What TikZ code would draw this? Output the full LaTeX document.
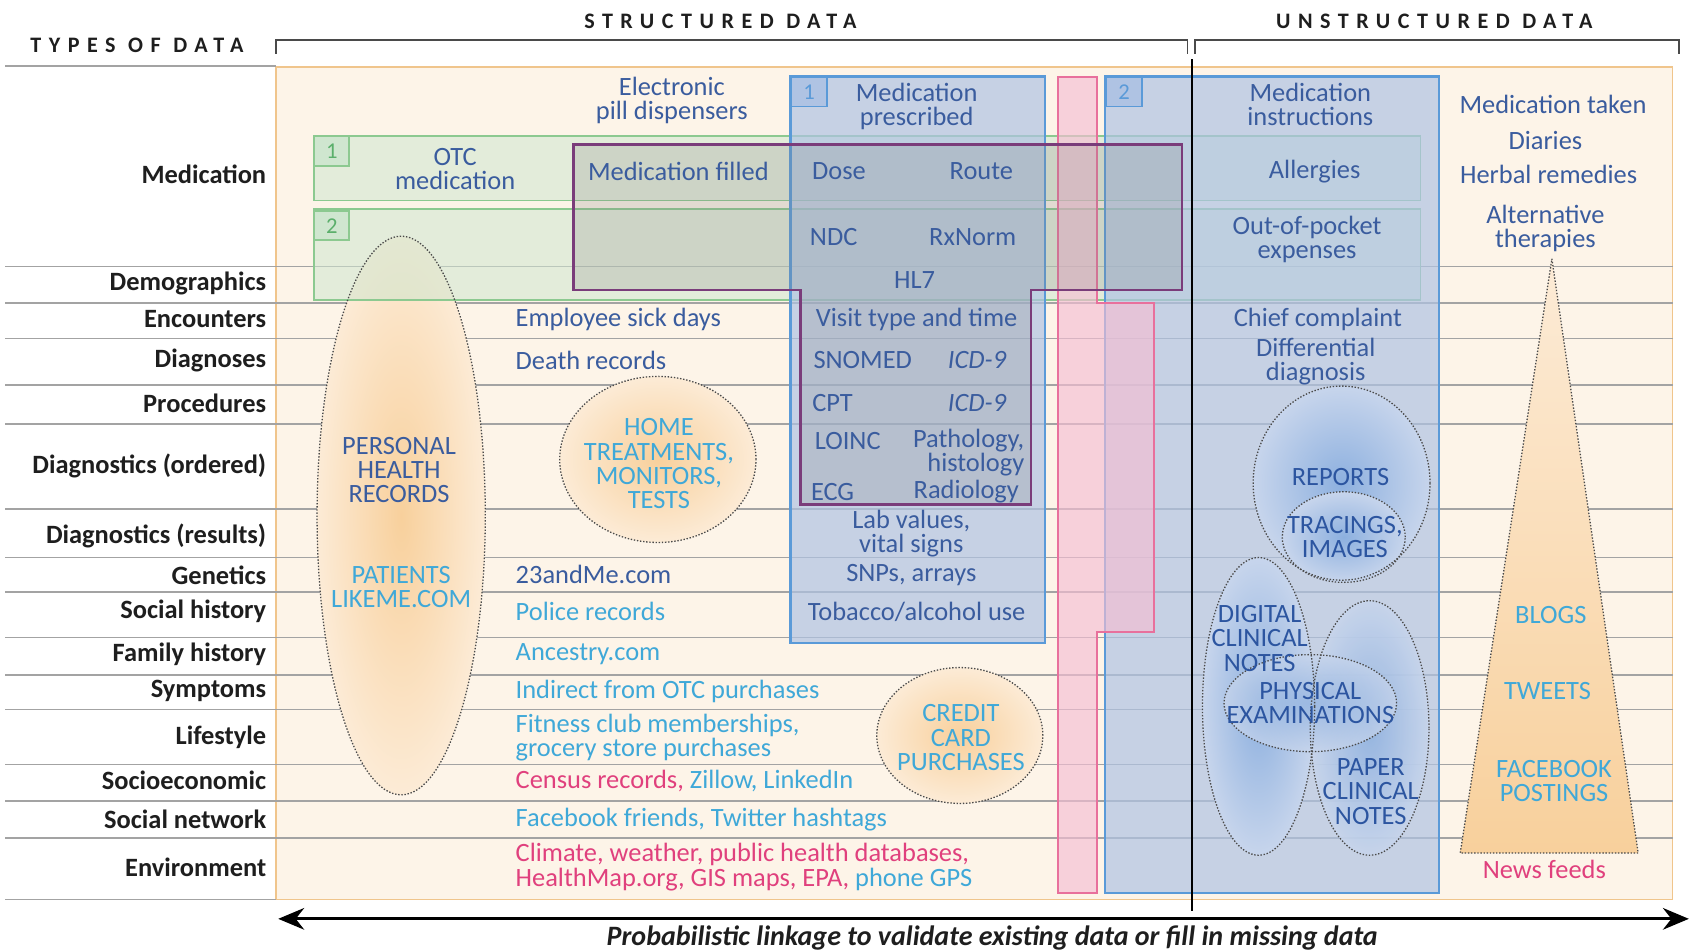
\documentclass[tikz,border=0pt]{standalone}
\usepackage{fontspec}
\setmainfont{Carlito}
\newfontfamily\spacedfont[LetterSpace=34]{Carlito}
\usetikzlibrary{arrows.meta}
\definecolor{panelfill}{HTML}{FDF4E8}
\definecolor{panelline}{HTML}{F0C58C}
\definecolor{rowline}{HTML}{A3A3A3}
\definecolor{greenfill}{HTML}{CFE6CF}
\definecolor{greenline}{HTML}{8CC990}
\definecolor{greentext}{HTML}{5BAF6B}
\definecolor{bluefill}{HTML}{AFC3E3}
\definecolor{blueline}{HTML}{5A9AD8}
\definecolor{pinkfill}{HTML}{F5BED3}
\definecolor{pinkline}{HTML}{E8709C}
\definecolor{purpleline}{HTML}{7A3C7A}
\definecolor{dkblue}{HTML}{3A5C9E}
\definecolor{cyantext}{HTML}{3FA8D8}
\definecolor{pinktext}{HTML}{E0407D}
\definecolor{labeltext}{HTML}{1E1E1E}
\definecolor{ellblue}{HTML}{2C55A0}
\definecolor{orin}{HTML}{F8D09C}
\definecolor{orout}{HTML}{FCEBD6}
\definecolor{blin}{HTML}{8DB0DF}
\definecolor{blout}{HTML}{C7D5EC}
\definecolor{dotcol}{HTML}{4A4A4A}
\begin{document}
\begin{tikzpicture}[x=1pt,y=-1pt,
  rowlab/.style={anchor=east,inner sep=0pt,text=labeltext,font=\fontsize{24.5}{23}\selectfont\bfseries},
  txt/.style={inner sep=0pt,text=dkblue,align=center,font=\fontsize{24.5}{22.5}\selectfont},
  lft/.style={txt,anchor=west,align=left},
  cy/.style={text=cyantext},
  pk/.style={text=pinktext},
  capsb/.style={txt,text=ellblue},
  dotln/.style={draw=dotcol,line width=1.2pt,dash pattern=on 1.3pt off 1.6pt},
  gridln/.style={draw=rowline,line width=1.6pt},
  head/.style={inner sep=0pt,text=labeltext,font=\spacedfont\fontsize{20.5}{22}\selectfont\bfseries},
  gnum/.style={draw=greenline,line width=1.5pt,fill=greenfill,text=greentext,anchor=north west,minimum width=32pt,minimum height=27pt,inner sep=0pt,font=\fontsize{21}{22}\selectfont},
  bnum/.style={draw=blueline,line width=1.5pt,fill=bluefill,text=blueline,anchor=north west,minimum width=33pt,minimum height=27pt,inner sep=0pt,font=\fontsize{21}{22}\selectfont}
]
\useasboundingbox[fill=white] (0,0) rectangle (1568,882);

% header
\node[head] (hstruct) at (668,20) {STRUCTURED DATA};
\node[head] (hunstruct) at (1330,20) {UNSTRUCTURED DATA};
\node[head,anchor=west] (htypes) at (28,42) {TYPES OF DATA};
\draw[draw=dotcol,line width=1.6pt] (256,50) -- (256,37) -- (1101,37) -- (1101,50);
\draw[draw=dotcol,line width=1.6pt] (1108,50) -- (1108,37) -- (1557,37) -- (1557,50);

% panel
\path[fill=panelfill,draw=panelline,line width=1.5pt] (256,62) rectangle (1551,834);

% row lines
\draw[gridln] (5,61) -- (256,61);
\draw[gridln] (5,834) -- (256,834);
\foreach \yy in {247,281,314,357,393,472,517,549,591,626,658,709,743,777}
  \draw[gridln] (5,\yy) -- (1551,\yy);

% PHR ellipse
\shade[inner color=orin,outer color=orout] (372,478) ellipse [x radius=78pt,y radius=259pt];

% green boxes
\draw[draw=greenline,line width=1.5pt,fill=greenfill,fill opacity=0.55] (291,126) rectangle (1317,186);
\draw[draw=greenline,line width=1.5pt,fill=greenfill,fill opacity=0.55] (291,194) rectangle (1317,278);

% blue boxes
\draw[draw=blueline,line width=2pt,fill=bluefill,fill opacity=0.7] (733,71) rectangle (969,596);
\draw[draw=blueline,line width=2pt,fill=bluefill,fill opacity=0.7] (1025,71) rectangle (1334,828);

% pink
\draw[draw=pinkline,line width=1.8pt,fill=pinkfill,fill opacity=0.65]
  (981,71) -- (1017,71) -- (1017,281) -- (1070,281) -- (1070,586) -- (1017,586) -- (1017,828) -- (981,828) -- cycle;

% purple HL7 outline
\draw[draw=purpleline,line width=2.5pt,fill=gray,fill opacity=0.22]
  (532,134) -- (1096,134) -- (1096,269) -- (956,269) -- (956,468) -- (742,468) -- (742,269) -- (532,269) -- cycle;

% number boxes
\node[gnum] (g1) at (291,126) {1};
\node[gnum] (g2) at (291,195) {2};
\node[bnum] (b1) at (733,71) {1};
\node[bnum] (b2) at (1025,71) {2};

% orange circles
\shade[inner color=orin,outer color=orout] (610,426) ellipse [x radius=91pt,y radius=77pt];
\shade[inner color=orin,outer color=orout] (890,682) ellipse [x radius=77pt,y radius=63pt];
\draw[dotln] (372,478) ellipse [x radius=78pt,y radius=259pt];
\draw[dotln] (610,426) ellipse [x radius=91pt,y radius=77pt];
\draw[dotln] (890,682) ellipse [x radius=77pt,y radius=63pt];

% triangle
\shade[top color=orout,bottom color=orin] (1439,240) -- (1519,791) -- (1354,791) -- cycle;
\draw[dotln] (1439,240) -- (1519,791) -- (1354,791) -- cycle;

% blue ellipses
\shade[inner color=blin,outer color=blout] (1244,448) ellipse [x radius=82pt,y radius=90pt];
\shade[inner color=blin,outer color=blout] (1246,498) ellipse [x radius=57pt,y radius=42pt];
\shade[inner color=blin,outer color=blout] (1167,655) ellipse [x radius=52pt,y radius=138pt];
\shade[inner color=blin,outer color=blout,opacity=0.85] (1270,675) ellipse [x radius=55pt,y radius=118pt];
\shade[inner color=blin,outer color=blout,opacity=0.7] (1215,652) ellipse [x radius=80pt,y radius=45pt];
\draw[dotln] (1244,448) ellipse [x radius=82pt,y radius=90pt];
\draw[dotln] (1246,498) ellipse [x radius=57pt,y radius=42pt];
\draw[dotln] (1167,655) ellipse [x radius=52pt,y radius=138pt];
\draw[dotln] (1270,675) ellipse [x radius=55pt,y radius=118pt];
\draw[dotln] (1215,652) ellipse [x radius=80pt,y radius=45pt];

% divider and bottom arrow
\coordinate (divT) at (1105,55);
\coordinate (divB) at (1105,845);
\draw[black,line width=1.8pt] (divT) -- (divB);
\coordinate (arrL) at (258,852);
\coordinate (arrR) at (1566,852);
\draw[black,line width=3pt,{Stealth[length=24pt,width=20pt]}-{Stealth[length=24pt,width=20pt]}] (arrL) -- (arrR);
\node[inner sep=0pt,text=labeltext,font=\fontsize{26}{28}\selectfont\bfseries\itshape] (prob) at (920,870) {Probabilistic linkage to validate existing data or fill in missing data};

% row labels
\node[rowlab] (rMed) at (247,162) {Medication};
\node[rowlab] (rDem) at (247,263) {Demographics};
\node[rowlab] (rEnc) at (247,296) {Encounters};
\node[rowlab] (rDia) at (247,334) {Diagnoses};
\node[rowlab] (rPro) at (247,374) {Procedures};
\node[rowlab] (rDo) at (247,432) {Diagnostics (ordered)};
\node[rowlab] (rDr) at (247,497) {Diagnostics (results)};
\node[rowlab] (rGen) at (247,533) {Genetics};
\node[rowlab] (rSh) at (247,567) {Social history};
\node[rowlab] (rFh) at (247,607) {Family history};
\node[rowlab] (rSy) at (247,641) {Symptoms};
\node[rowlab] (rLi) at (247,684) {Lifestyle};
\node[rowlab] (rSo) at (247,724) {Socioeconomic};
\node[rowlab] (rSn) at (247,760) {Social network};
\node[rowlab] (rEnv) at (247,804) {Environment};

% structured texts
\node[txt] (epd) at (623,93) {Electronic\\pill dispensers};
\node[txt] (otc) at (422,157) {OTC\\medication};
\node[txt] (mfill) at (629,159) {Medication filled};
\node[txt] (mpre) at (850,99) {Medication\\prescribed};
\node[txt] (dose) at (778,159) {Dose};
\node[txt] (route) at (910,159) {Route};
\node[txt] (ndc) at (773,220) {NDC};
\node[txt] (rxn) at (902,220) {RxNorm};
\node[txt] (hl7) at (848,260) {HL7};
\node[txt] (visit) at (850,296) {Visit type and time};
\node[txt] (snomed) at (800,334) {SNOMED};
\node[txt] (icd1) at (906,334) {\itshape ICD-9};
\node[txt] (cpt) at (772,374) {CPT};
\node[txt] (icd2) at (906,374) {\itshape ICD-9};
\node[txt] (loinc) at (786,409) {LOINC};
\node[txt,anchor=east,align=right] (patho) at (950,420) {Pathology,\\histology};
\node[txt] (ecg) at (772,456) {ECG};
\node[txt] (radio) at (896,456) {Radiology};
\node[txt] (lab) at (845,495) {Lab values,\\vital signs};
\node[txt] (snp) at (845,533) {SNPs, arrays};
\node[txt] (tob) at (850,567) {Tobacco/alcohol use};

% unstructured texts
\node[txt] (minst) at (1215,97) {Medication\\instructions};
\node[txt] (allg) at (1219,159) {Allergies};
\node[txt] (oop) at (1212,222) {Out-of-pocket\\expenses};
\node[txt] (chief) at (1222,296) {Chief complaint};
\node[txt] (diff) at (1220,335) {Differential\\diagnosis};
\node[txt] (mtak) at (1440,97) {Medication taken};
\node[txt] (diar) at (1433,130) {Diaries};
\node[txt] (herb) at (1436,162) {Herbal remedies};
\node[txt] (alt) at (1433,212) {Alternative\\therapies};
\node[txt,pk] (news) at (1432,806) {News feeds};

% left column texts
\node[lft] (sick) at (478,296) {Employee sick days};
\node[lft] (death) at (478,334) {Death records};
\node[lft] (dna) at (478,533) {23andMe.com};
\node[lft,cy] (police) at (478,567) {Police records};
\node[lft,cy] (ances) at (478,607) {Ancestry.com};
\node[lft,cy] (indir) at (478,641) {Indirect from OTC purchases};
\node[lft,cy] (fit) at (478,684) {Fitness club memberships,\\grocery store purchases};
\node[lft] (census) at (478,724) {\color{pinktext}Census records, \color{cyantext}Zillow, LinkedIn};
\node[lft,cy] (fb) at (478,760) {Facebook friends, Twitter hashtags};
\node[lft] (clim) at (478,804) {\color{pinktext}Climate, weather, public health databases,\\\color{pinktext}HealthMap.org, GIS maps, EPA, \color{cyantext}phone GPS};

% ellipse texts
\node[txt] (phr) at (370,436) {PERSONAL\\HEALTH\\RECORDS};
\node[txt,cy] (plm) at (372,544) {PATIENTS\\LIKEME.COM};
\node[txt,cy] (home) at (611,430) {HOME\\TREATMENTS,\\MONITORS,\\TESTS};
\node[txt,cy] (ccp) at (891,684) {CREDIT\\CARD\\PURCHASES};
\node[capsb] (rep) at (1243,442) {REPORTS};
\node[capsb] (trac) at (1247,498) {TRACINGS,\\IMAGES};
\node[capsb] (dcn) at (1168,592) {DIGITAL\\CLINICAL\\NOTES};
\node[capsb] (phys) at (1215,652) {PHYSICAL\\EXAMINATIONS};
\node[capsb] (pcn) at (1271,734) {PAPER\\CLINICAL\\NOTES};
\node[txt,cy] (blogs) at (1438,570) {BLOGS};
\node[txt,cy] (tweets) at (1435,641) {TWEETS};
\node[txt,cy] (fbp) at (1441,724) {FACEBOOK\\POSTINGS};
\end{tikzpicture}
\end{document}
